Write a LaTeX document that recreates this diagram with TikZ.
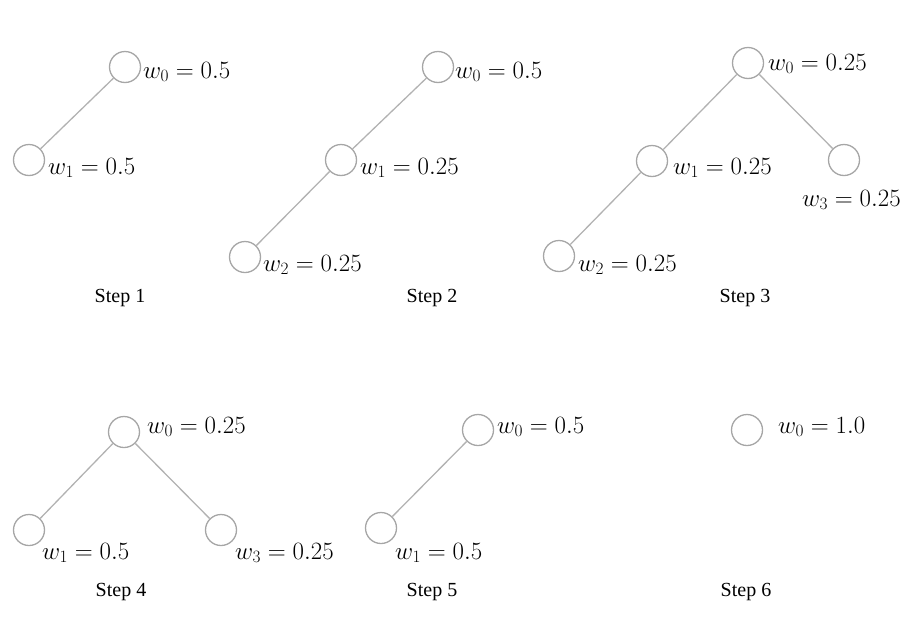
\documentclass[tikz,border=0pt]{standalone}
\usepackage{fontspec}
\setmainfont{Liberation Serif}
\begin{document}
\begin{tikzpicture}[x=1pt,y=-1pt,
  nd/.style={circle,draw=black!35,line width=1.3pt,minimum size=31pt,inner sep=0pt},
  edge/.style={draw=black!30,line width=1.3pt},
  lab/.style={inner sep=0pt,font=\fontsize{23}{27}\selectfont},
  steplab/.style={inner sep=0pt,font=\fontsize{20}{24}\selectfont}]
\useasboundingbox (0,0) rectangle (903,635);
% Step 1
\node[nd] (a0) at (125,67) {};
\node[nd] (a1) at (29,160) {};
\draw[edge] (a0) -- (a1);
\node[lab,anchor=west] (la0) at (143,72) {$w_0 = 0.5$};
\node[lab,anchor=west] (la1) at (48,168) {$w_1 = 0.5$};
\node[steplab] (s1) at (120,298) {Step 1};
% Step 2
\node[nd] (b0) at (438,67) {};
\node[nd] (b1) at (341,160) {};
\node[nd] (b2) at (245,257) {};
\draw[edge] (b0) -- (b1);
\draw[edge] (b1) -- (b2);
\node[lab,anchor=west] (lb0) at (455,72) {$w_0 = 0.5$};
\node[lab,anchor=west] (lb1) at (360,168) {$w_1 = 0.25$};
\node[lab,anchor=west] (lb2) at (263,265) {$w_2 = 0.25$};
\node[steplab] (s2) at (432,298) {Step 2};
% Step 3
\node[nd] (c0) at (748,63) {};
\node[nd] (c1) at (652,161) {};
\node[nd] (c2) at (559,256) {};
\node[nd] (c3) at (844,160) {};
\draw[edge] (c0) -- (c1);
\draw[edge] (c1) -- (c2);
\draw[edge] (c0) -- (c3);
\node[lab,anchor=west] (lc0) at (768,64) {$w_0 = 0.25$};
\node[lab,anchor=west] (lc1) at (673,168) {$w_1 = 0.25$};
\node[lab,anchor=west] (lc2) at (578,265) {$w_2 = 0.25$};
\node[lab,anchor=west] (lc3) at (802,200) {$w_3 = 0.25$};
\node[steplab] (s3) at (745,298) {Step 3};
% Step 4
\node[nd] (d0) at (124,432) {};
\node[nd] (d1) at (29,530) {};
\node[nd] (d3) at (221,530) {};
\draw[edge] (d0) -- (d1);
\draw[edge] (d0) -- (d3);
\node[lab,anchor=west] (ld0) at (147,427) {$w_0 = 0.25$};
\node[lab,anchor=west] (ld1) at (42,553) {$w_1 = 0.5$};
\node[lab,anchor=west] (ld3) at (235,553) {$w_3 = 0.25$};
\node[steplab] (s4) at (121,592) {Step 4};
% Step 5
\node[nd] (e0) at (478,430) {};
\node[nd] (e1) at (381,528) {};
\draw[edge] (e0) -- (e1);
\node[lab,anchor=west] (le0) at (497,427) {$w_0 = 0.5$};
\node[lab,anchor=west] (le1) at (395,553) {$w_1 = 0.5$};
\node[steplab] (s5) at (432,592) {Step 5};
% Step 6
\node[nd] (f0) at (747,430) {};
\node[lab,anchor=west] (lf0) at (778,427) {$w_0 = 1.0$};
\node[steplab] (s6) at (746,592) {Step 6};
\end{tikzpicture}
\end{document}
